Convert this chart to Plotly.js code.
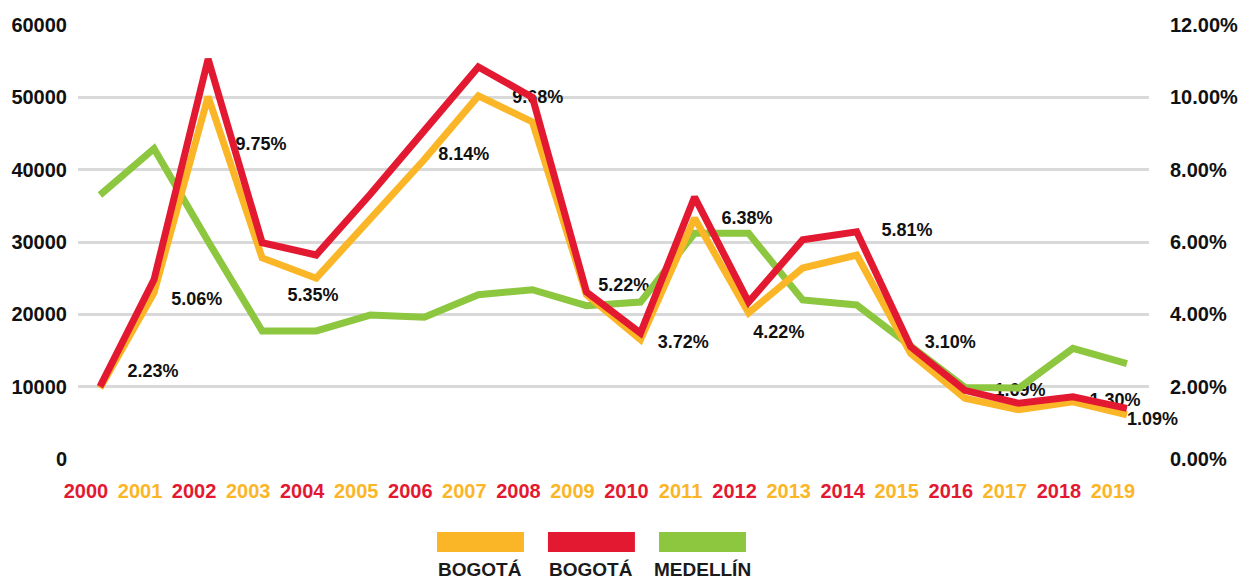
<!DOCTYPE html>
<html>
<head>
<meta charset="utf-8">
<script src="https://cdn.plot.ly/plotly-3.0.1.min.js"></script>
<style>html,body{margin:0;padding:0;background:#fff;}#chart{width:1250px;height:582px;}</style>
</head>
<body>
<div id="chart"></div>
<script>
// ---- data ----
const years = [2000,2001,2002,2003,2004,2005,2006,2007,2008,2009,2010,2011,2012,2013,2014,2015,2016,2017,2018,2019];
const bogotaOrange = [9800,23000,50100,27800,25000,33200,41400,50200,46600,22700,16500,33300,20200,26400,28200,14600,8400,6800,7900,6100];
const bogotaRed    = [10000,24800,55300,29900,28200,36600,45400,54200,50000,23100,17400,36200,21700,30300,31400,15500,9500,7700,8600,7000];
const medellin     = [36500,42900,30100,17700,17700,19900,19600,22700,23400,21200,21700,31200,31200,22000,21300,15500,9900,9800,15300,13200];
const pctLabels = ["2.23%","5.06%","9.75%","5.35%","8.14%","9.68%","5.22%","3.72%","6.38%","4.22%","5.81%","3.10%","1.69%","1.30%","1.09%"];
const pctLabelX = [2000.98,2001.79,2002.98,2003.94,2006.73,2008.10,2009.69,2010.79,2011.97,2012.56,2014.93,2015.73,2017.02,2018.78,2019.0];
const pctLabelY = [11900,21850,43300,22400,41900,49800,23900,15900,33100,17400,31500,15900,9400,7900,5300];
const pctLabelPos = ["middle center","middle center","middle center","middle center","middle center","middle center","middle center","middle center","middle center","middle center","middle center","middle center","middle center","middle center","middle right"];
const yearColors = ["red","orange"];
const seriesNames = ["BOGOTÁ","BOGOTÁ","MEDELLÍN"];
const LEFT_MAX = 60000, RIGHT_MAX = 0.12;

const ORANGE = "#FBB627", RED = "#E31931", GREEN = "#8DC63F";
const colorMap = {red: RED, orange: ORANGE};
const tickText = years.map((y,i)=>'<span style="fill:'+colorMap[yearColors[i%2]]+'">'+y+'</span>');

const tickFont = {family: "Liberation Sans, Arial, sans-serif", size: 20, color: "#111", weight: "bold"};
const labelFont = {family: "Liberation Sans, Arial, sans-serif", size: 18, color: "#111", weight: "bold"};

const traces = [
  {x: pctLabelX, y: pctLabelY, text: pctLabels, mode: "text", textposition: pctLabelPos,
   textfont: labelFont, cliponaxis: false, hoverinfo: "skip", showlegend: false},
  {x: years, y: medellin, mode: "lines", line: {color: GREEN, width: 7}, name: seriesNames[2], showlegend: false},
  {x: years, y: bogotaOrange, mode: "lines", line: {color: ORANGE, width: 7}, name: seriesNames[0], showlegend: false},
  {x: years, y: bogotaRed, mode: "lines", line: {color: RED, width: 7}, name: seriesNames[1], showlegend: false},
  // same labels expressed on the percentage axis (transparent) so the right axis is drawn
  {x: pctLabelX, y: pctLabelY.map(v=>v/LEFT_MAX*RIGHT_MAX), yaxis: "y2", text: pctLabels, mode: "text",
   textfont: {size: 1, color: "rgba(0,0,0,0)"}, hoverinfo: "skip", showlegend: false}
];

// legend drawn as swatches above names
const legendColors = [ORANGE, RED, GREEN];
const legendX0 = [0.3352, 0.4388, 0.5425];
const swW = 0.0812;
const shapes = legendColors.map((c,i)=>({type:"rect", xref:"paper", yref:"paper",
  x0: legendX0[i], x1: legendX0[i]+swW, y0: -0.2143, y1: -0.1682, fillcolor: c, line:{width:0}}));
const annotations = seriesNames.map((n,i)=>({xref:"paper", yref:"paper", x: legendX0[i]+swW/2, y: -0.2535,
  text: n, showarrow:false, xanchor:"center", yanchor:"middle",
  font:{family:"Liberation Sans, Arial, sans-serif", size:19, color:"#1a1a1a", weight:"bold"}}));

const layout = {
  width: 1250, height: 582,
  margin: {l: 78, r: 101, t: 25, b: 123},
  paper_bgcolor: "#fff", plot_bgcolor: "#fff",
  showlegend: false,
  xaxis: {type: "linear", range: [1999.593, 2019.408], tickvals: years, ticktext: tickText,
    showgrid: false, zeroline: false, showline: false, ticks: "", tickfont: tickFont,
    ticklabelstandoff: 18, ticklabelshift: -14, fixedrange: true},
  yaxis: {range: [0, LEFT_MAX], dtick: 10000, tickformat: "d", showgrid: true, gridcolor: "#D9D9D9", gridwidth: 3,
    zeroline: false, showline: false, ticks: "", tickfont: tickFont, ticklabelstandoff: 10, fixedrange: true},
  yaxis2: {overlaying: "y", side: "right", range: [0, RIGHT_MAX], dtick: 0.02, tickformat: ".2%",
    showgrid: false, zeroline: false, showline: false, ticks: "", tickfont: tickFont, ticklabelstandoff: 20, fixedrange: true},
  shapes: shapes,
  annotations: annotations
};

Plotly.newPlot("chart", traces, layout, {displayModeBar: false, staticPlot: true});
</script>
</body>
</html>
